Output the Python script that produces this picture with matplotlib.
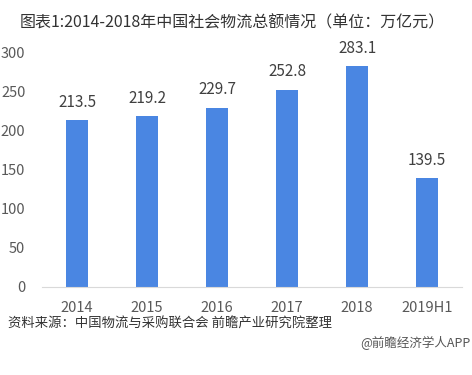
import matplotlib.pyplot as plt

plt.rcParams['font.family'] = ['Noto Sans CJK SC', 'DejaVu Sans']

categories = ['2014', '2015', '2016', '2017', '2018', '2019H1']
values = [213.5, 219.2, 229.7, 252.8, 283.1, 139.5]

fig = plt.figure(figsize=(4.72, 3.75), dpi=100)
ax = fig.add_axes([0.089, 0.235, 0.89, 0.624])

x = range(len(categories))
ax.bar(x, values, width=0.32, color='#4a86e2')
for i, v in zip(x, values):
    ax.text(i, v + 12, '%.1f' % v, ha='center', va='bottom', fontsize=11, color='#404040')

ax.set_xlim(-0.5, len(categories) - 0.5)
ax.set_ylim(0, 300)
ax.set_yticks([0, 50, 100, 150, 200, 250, 300])
ax.set_xticks(list(x))
ax.set_xticklabels(categories)
ax.tick_params(axis='both', length=0, labelsize=10.5, colors='#595959')
ax.tick_params(axis='x', pad=10)
ax.tick_params(axis='y', pad=12)
for s in ['top', 'right', 'left']:
    ax.spines[s].set_visible(False)
ax.spines['bottom'].set_color('#d9d9d9')

fig.text(0.042, 0.94, '图表1:2014-2018年中国社会物流总额情况（单位：万亿元）',
         fontsize=11.5, color='#333333', va='center')
fig.text(0.017, 0.138, '资料来源：中国物流与采购联合会 前瞻产业研究院整理',
         fontsize=9.6, color='#333333', style='italic', va='center')
fig.text(0.997, 0.085, '@前瞻经济学人APP', fontsize=9, color='#555555',
         ha='right', va='center')

fig.savefig('out.png', dpi=100)
